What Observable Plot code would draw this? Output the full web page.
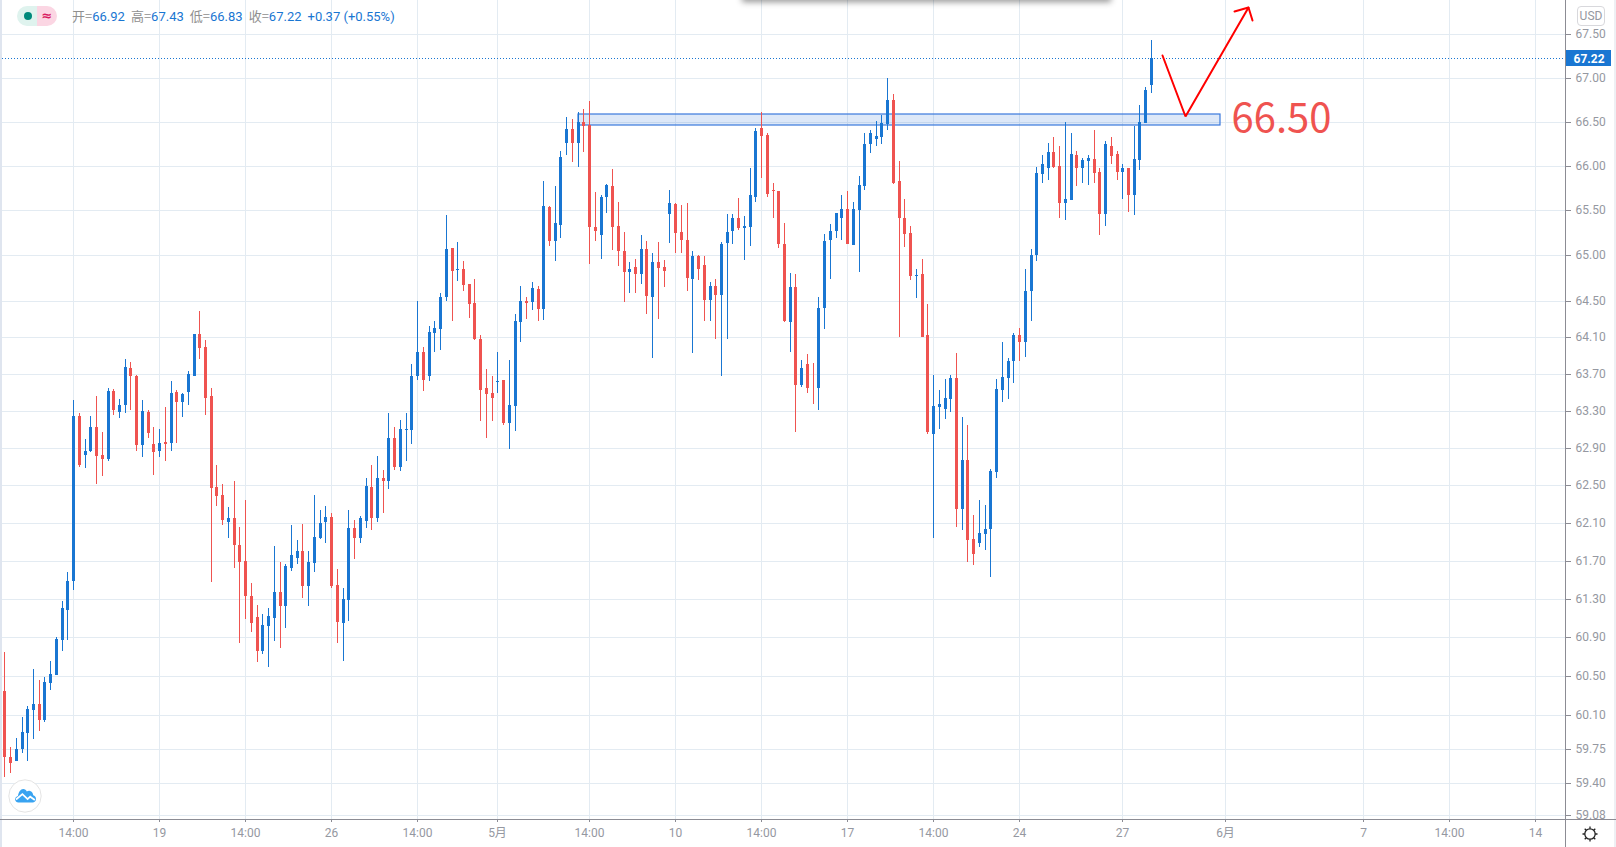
<!DOCTYPE html>
<html><head><meta charset="utf-8">
<script src="https://cdn.jsdelivr.net/npm/d3@7"></script>
<script src="https://cdn.jsdelivr.net/npm/@observablehq/plot@0.6"></script>
<style>
html,body{margin:0;padding:0;background:#fff;overflow:hidden}
#wrap{position:relative;width:1616px;height:847px;overflow:hidden;font-family:Roboto,"Noto Sans CJK SC",sans-serif}
#wrap svg{display:block}
.chrome{position:absolute}
#legend{left:72px;top:8px;font-size:13px;line-height:16px;white-space:nowrap;color:#1976d2}
#legend i{font-style:normal;color:#8f8f8f;font-family:"Noto Sans CJK SC",sans-serif}
#legend span{margin-right:6px}
</style></head><body>
<div id="wrap">
<div id="plot"></div>
<div class="chrome" style="left:0;top:0;width:2px;height:847px;background:#dfe5ef"></div>
<div class="chrome" style="left:1614px;top:0;width:2px;height:847px;background:#eef0f4"></div>
<div class="chrome" style="left:742px;top:-8px;width:369px;height:8px;background:#fff;box-shadow:0 2px 6px rgba(0,0,0,.42)"></div>
<div class="chrome" style="left:0;top:819px;width:1616px;height:1px;background:#8c8c94"></div>
<div class="chrome" style="left:1565px;top:0;width:1px;height:847px;background:#8c8c94"></div>
<div class="chrome" id="legend"></div>
<div class="chrome" style="left:17px;top:6px;width:20px;height:20px;border-radius:10px 0 0 10px;background:#dff3ee"></div>
<div class="chrome" style="left:37px;top:6px;width:20px;height:20px;border-radius:0 10px 10px 0;background:#fbd6e3;color:#d81b60;font:bold 13px/19px 'DejaVu Sans';text-align:center">≈</div>
<div class="chrome" style="left:24px;top:12px;width:8px;height:8px;border-radius:50%;background:#00897b"></div>
<div class="chrome" style="left:1577px;top:6px;width:26px;height:18px;border:1px solid #d8d8dc;border-radius:4px;font-size:12px;line-height:18px;color:#9598a1;text-align:center;background:#fff">USD</div>
<svg class="chrome" style="left:8px;top:779px" width="34" height="34" viewBox="0 0 34 34">
<circle cx="17" cy="17" r="16.2" fill="#fff" stroke="#e4e4e4" stroke-width="1"/>
<path d="M7 20.5c0-2 1.4-3.2 3-3.6 .5-3.8 2.6-6.9 5.2-6.9 1.8 0 3 1 3.6 2.6 1-.7 2.1-.9 3.2-.6 1.9 .5 3 2.2 3.2 4.3 1.6 .4 2.8 1.8 2.8 3.6 0 2-1.6 3.6-3.4 3.6H10.4c-1.9 0-3.4-1.6-3.4-4z" fill="#38a3f1"/>
<path d="M8 20.5l6.4-5.4 5.2 5 2.6-2.4 4.6 3.2" fill="none" stroke="#fff" stroke-width="1.8"/>
</svg>
<svg class="chrome" style="left:1581px;top:825px" width="18" height="18" viewBox="0 0 18 18">
<circle cx="9" cy="9" r="5.2" fill="none" stroke="#222" stroke-width="1.3"/>
<path d="M9 1.5v2.3M9 14.2v2.3M1.5 9h2.3M14.2 9h2.3M3.7 3.7l1.6 1.6M12.7 12.7l1.6 1.6M14.3 3.7l-1.6 1.6M5.3 12.7l-1.6 1.6" stroke="#222" stroke-width="1.3"/>
</svg>
</div>
<script>
const opens=[60.34,59.67,59.63,59.75,59.91,60.15,60.21,60.05,60.43,60.51,
60.87,61.18,61.49,63.24,62.82,62.86,63.12,62.82,62.78,63.51,
63.29,63.36,63.76,63.68,62.93,63.29,62.94,62.86,62.96,62.95,
63.50,63.39,63.50,63.68,64.13,63.99,63.46,62.48,62.40,62.11,
62.15,61.87,61.70,61.33,61.11,60.76,61.02,61.10,61.37,61.22,
61.62,61.73,61.80,61.43,61.68,61.94,62.11,62.16,61.44,61.05,
61.29,62.04,61.94,62.12,62.48,62.15,62.58,62.54,63.00,62.69,
63.09,63.09,63.67,63.94,63.67,64.14,64.19,64.54,65.08,64.84,
64.85,64.68,64.47,64.08,63.54,63.49,63.61,63.63,63.17,63.35,
64.26,64.50,64.48,64.63,64.41,65.54,65.16,65.34,66.26,66.42,
66.26,66.49,66.46,65.31,65.23,65.65,65.77,65.32,65.05,64.82,
64.87,64.79,65.07,64.54,64.93,64.87,65.46,65.57,65.26,65.17,
64.74,64.99,64.89,64.51,64.66,64.56,65.14,65.27,65.41,65.30,
65.31,65.65,66.43,66.35,65.73,65.72,65.13,64.26,64.65,63.58,
63.80,63.55,63.55,64.42,65.17,65.27,65.41,65.51,65.11,65.50,
65.77,66.24,66.30,66.33,66.47,66.75,65.83,65.42,65.25,64.77,
64.79,64.12,63.05,63.34,63.32,63.43,63.65,62.25,62.77,61.93,
61.89,61.98,62.03,62.64,63.52,63.65,63.84,64.12,64.04,64.60,
65.00,65.91,65.98,66.16,66.00,65.58,65.62,66.12,65.98,66.05,
66.08,65.93,65.46,66.22,66.13,65.93,65.97,65.67,66.06,66.48,
66.92];
const closes=[59.67,59.61,59.75,59.92,60.16,60.21,60.05,60.44,60.52,60.88,
61.20,61.49,63.24,62.71,62.87,63.12,62.81,62.78,63.51,63.31,
63.36,63.77,63.67,62.93,63.30,63.06,62.85,62.95,62.94,63.49,
63.39,63.48,63.70,64.13,63.98,63.44,62.47,62.38,62.13,62.15,
61.87,61.69,61.33,61.05,60.76,61.03,61.12,61.37,61.22,61.64,
61.76,61.80,61.43,61.69,61.95,62.10,62.16,61.43,61.06,61.30,
62.04,61.94,62.15,62.49,62.15,62.58,62.54,63.01,62.69,63.10,
63.10,63.68,63.94,63.63,64.15,64.20,64.54,65.07,64.83,64.85,
64.67,64.46,64.08,63.52,63.48,63.44,63.62,63.17,63.36,64.28,
64.50,64.47,64.64,64.41,65.55,65.16,65.36,66.10,66.42,66.26,
66.49,66.45,65.31,65.27,65.65,65.78,65.31,65.05,64.82,64.85,
64.79,65.07,64.55,64.93,64.86,64.83,65.58,65.25,65.17,64.75,
64.99,64.85,64.51,64.66,64.56,65.13,65.26,65.41,65.30,65.33,
65.67,66.39,66.34,65.68,65.72,65.12,64.28,64.65,63.58,63.76,
63.54,63.54,64.42,65.16,65.27,65.47,65.51,65.13,65.51,65.78,
66.25,66.37,66.34,66.48,66.74,65.81,65.41,65.24,64.77,64.78,
64.10,63.07,63.35,63.37,63.44,63.65,62.25,62.77,61.92,61.77,
61.99,62.03,62.65,63.53,63.66,63.84,64.12,64.04,64.61,65.00,
65.92,66.02,66.16,65.99,65.58,65.63,66.13,65.97,66.07,66.09,
65.92,65.46,66.24,66.11,65.93,65.97,65.67,66.08,66.50,66.86,
67.22];
const highs=[60.75,59.77,59.86,60.08,60.19,60.57,60.46,60.49,60.65,60.90,
61.28,61.58,63.41,63.27,62.99,63.24,63.46,63.07,63.54,63.53,
63.43,63.86,63.83,63.69,63.41,63.31,63.12,63.10,63.34,63.62,
63.52,63.49,63.73,64.13,64.38,64.07,63.54,62.71,62.51,62.27,
62.54,62.06,62.34,61.47,61.24,61.14,61.20,61.85,61.69,61.66,
62.08,61.92,62.09,61.80,62.40,62.24,62.28,62.20,61.61,61.41,
62.24,62.13,62.17,62.58,62.71,62.81,62.66,63.27,63.12,63.20,
63.27,63.81,64.49,63.99,64.22,64.27,64.58,65.45,65.08,65.15,
64.94,64.68,64.74,64.12,63.75,63.67,63.94,63.63,63.85,64.35,
64.66,64.54,64.70,64.66,65.83,65.55,65.77,66.17,66.55,66.53,
66.61,66.64,66.73,65.71,65.67,65.80,65.96,65.59,65.26,64.93,
64.96,65.22,65.16,65.03,65.15,64.95,65.73,65.58,65.56,65.58,
65.05,65.00,64.99,64.70,64.74,65.15,65.46,65.46,65.64,65.44,
65.98,66.43,66.61,66.37,65.81,65.72,65.36,64.80,64.79,63.85,
63.91,63.82,64.54,65.24,65.35,65.47,65.67,65.72,65.59,65.89,
66.37,66.40,66.51,66.57,66.99,66.81,66.05,65.63,65.33,64.85,
64.96,64.46,63.69,63.52,63.64,63.69,63.92,63.23,63.15,62.18,
62.34,62.29,62.67,63.64,64.05,63.87,64.14,64.20,64.85,65.07,
65.99,66.12,66.26,66.32,66.22,66.49,66.37,66.17,66.09,66.12,
66.40,65.98,66.28,66.33,66.17,66.02,65.97,66.45,66.69,66.89,
67.43];
const lows=[59.46,59.51,59.63,59.71,59.63,59.85,59.93,60.02,60.35,60.51,
60.76,60.87,61.39,62.69,62.68,62.85,62.51,62.60,62.76,63.25,
63.22,63.27,63.31,62.87,62.80,63.00,62.61,62.80,62.76,62.87,
62.95,63.23,63.36,63.68,63.86,63.25,61.48,62.28,62.08,61.94,
61.62,60.84,61.09,60.95,60.64,60.73,60.59,60.86,60.79,61.00,
61.59,61.67,61.31,61.23,61.58,61.93,61.89,61.41,60.84,60.65,
61.07,61.72,61.89,62.04,62.02,62.11,62.20,62.46,62.66,62.65,
62.76,62.94,63.63,63.51,63.62,63.94,63.96,64.50,64.27,64.71,
64.61,64.31,64.07,63.19,63.00,63.19,63.49,63.15,62.89,63.08,
64.04,64.30,64.40,64.28,64.29,65.10,64.94,65.19,66.12,66.04,
65.99,66.16,64.90,65.16,64.96,65.47,65.06,64.88,64.48,64.58,
64.58,64.68,64.35,63.87,64.30,64.65,65.14,65.02,65.02,64.61,
63.93,64.73,64.28,64.27,64.08,63.67,64.08,65.12,65.28,64.95,
65.10,65.59,65.86,65.65,65.41,65.08,64.26,63.94,63.07,63.56,
63.49,63.37,63.31,64.19,64.74,65.19,65.17,65.13,65.11,64.82,
65.73,66.14,66.22,66.25,66.40,65.80,64.10,65.09,64.73,64.53,
64.10,63.05,61.94,63.10,63.21,63.29,62.06,62.02,61.69,61.65,
61.84,61.81,61.53,62.58,63.39,63.43,63.60,63.84,63.88,64.27,
64.94,65.81,65.84,65.97,65.41,65.39,65.62,65.77,65.81,65.78,
65.81,65.23,65.33,66.02,65.84,65.63,65.48,65.45,65.95,66.48,
66.83];
const priceTicks=[67.5,67,66.5,66,65.5,65,64.5,64.1,63.7,63.3,62.9,62.5,62.1,61.7,61.3,60.9,60.5,60.1,59.75,59.4,59.08];
const timeTickBars=[12,27,42,57,72,86,102,117,132,147,162,177,195,213,237,252,267];
const timeTickLabels=["14:00","19","14:00","26","14:00","5月","14:00","10","14:00","17","14:00","24","27","6月","7","14:00","14"];
const lastPrice=67.22, lastLabelBand={x1:272.22,x2:280.3,y1:67.13,y2:67.32};
const zone={x1:100,x2:212,y1:66.466,y2:66.58};
const arrowBars=[202,206,217], arrowPrices=[67.26,66.56,67.81];
const headBars=[214.5,217,217.7], headPrices=[67.77,67.81,67.66];
const note={bar:213.95,price:66.525,text:"66.50"};
const legendItems=[["开=","66.92"],["高=","67.43"],["低=","66.83"],["收=","67.22"]];
const legendChange="+0.37 (+0.55%)";

const UP="#1976d2",DOWN="#ef5350",GRID="#e3ebf2",LABEL="#9598a1";
const bars=opens.map((o,i)=>({i,o,c:closes[i],h:highs[i],l:lows[i]}));
const color=d=>d.c>=d.o?UP:DOWN;
const chart=Plot.plot({
  width:1616,height:847,marginLeft:2,marginRight:51,marginTop:0,marginBottom:28,
  style:{background:"transparent",fontFamily:'Roboto,"Noto Sans CJK SC",sans-serif',fontSize:"12px",overflow:"visible"},
  x:{domain:[-0.406,272.22],round:true,axis:null},
  y:{type:"log",domain:[59.04,67.893],round:true,axis:null},
  marks:[
    Plot.gridX(timeTickBars,{stroke:GRID,strokeOpacity:1}),
    Plot.gridY(priceTicks,{stroke:GRID,strokeOpacity:1}),
    Plot.rect([zone],{x1:"x1",x2:"x2",y1:"y1",y2:"y2",fill:"#2a6fd6",fillOpacity:0.16,stroke:"#3a78dc",strokeWidth:1.2}),
    Plot.ruleY([lastPrice],{stroke:UP,strokeDasharray:"1 2",strokeWidth:1}),
    Plot.ruleX(bars,{x:"i",y1:"l",y2:"h",stroke:color,strokeWidth:1}),
    Plot.ruleX(bars,{x:"i",y1:"o",y2:"c",stroke:color,strokeWidth:3}),
    Plot.line(arrowBars.map((b,i)=>[b,arrowPrices[i]]),{x:"0",y:"1",stroke:"#ff0000",strokeWidth:2,curve:"linear",strokeLinejoin:"miter"}),
    Plot.line(headBars.map((b,i)=>[b,headPrices[i]]),{x:"0",y:"1",stroke:"#ff0000",strokeWidth:2,curve:"linear",strokeLinejoin:"miter"}),
    Plot.text([note],{x:"bar",y:"price",text:"text",textAnchor:"start",fill:DOWN,fontSize:40,fontFamily:"Noto Sans CJK SC"}),
    Plot.rect([lastLabelBand],{x1:"x1",x2:"x2",y1:"y1",y2:"y2",fill:UP}),
    Plot.text([lastPrice],{x:()=>273.6,y:d=>d,dy:1,text:d=>d.toFixed(2),textAnchor:"start",fill:"#fff",fontWeight:"bold",fontSize:12}),
    Plot.axisY(priceTicks,{anchor:"right",tickSize:5,tickPadding:5,tickFormat:d=>d.toFixed(2),stroke:"#8c8c94",fill:LABEL,label:null}),
    Plot.axisX(timeTickBars,{anchor:"bottom",tickSize:3,tickPadding:6,tickFormat:d=>timeTickLabels[timeTickBars.indexOf(d)],stroke:"#8c8c94",fill:LABEL,label:null})
  ]
});
document.getElementById("plot").appendChild(chart);
const leg=document.getElementById("legend");
legendItems.forEach(([k,v])=>{const s=document.createElement("span");const a=document.createElement("i");a.textContent=k;s.append(a,v);leg.append(s)});
leg.append(legendChange);
</script>
</body></html>
